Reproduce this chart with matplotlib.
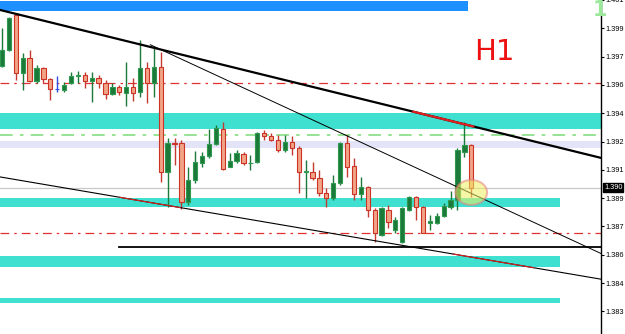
import matplotlib.pyplot as plt
from matplotlib.patches import Ellipse

# H1 candles, oldest first
opens = [1.39687, 1.39777, 1.39975, 1.39647, 1.39732, 1.39602, 1.39676, 1.39613, 1.39557, 1.39551,
         1.39591, 1.39630, 1.39636, 1.39602, 1.39619, 1.39591, 1.39529, 1.39568, 1.39534, 1.39568,
         1.39540, 1.39676, 1.39591, 1.39681, 1.39088, 1.39252, 1.39252, 1.38918, 1.39042, 1.39138,
         1.39178, 1.39246, 1.39331, 1.39116, 1.39150, 1.39189, 1.39138, 1.39144, 1.39308, 1.39291,
         1.39268, 1.39212, 1.39257, 1.39223, 1.39088, 1.39088, 1.39054, 1.38969, 1.38941, 1.39025,
         1.39252, 1.39121, 1.38963, 1.39003, 1.38873, 1.38731, 1.38873, 1.38760, 1.38692, 1.38873,
         1.38946, 1.38890, 1.38799, 1.38799, 1.38839, 1.38890, 1.38929, 1.39201, 1.39240]
highs = [1.39902, 1.39964, 1.39981, 1.39760, 1.39777, 1.39692, 1.39681, 1.39619, 1.39630, 1.39596,
         1.39653, 1.39659, 1.39653, 1.39653, 1.39636, 1.39608, 1.39591, 1.39579, 1.39709, 1.39619,
         1.39834, 1.39709, 1.39789, 1.39766, 1.39280, 1.39280, 1.39268, 1.39116, 1.39206, 1.39201,
         1.39331, 1.39353, 1.39370, 1.39195, 1.39212, 1.39201, 1.39184, 1.39314, 1.39325, 1.39308,
         1.39297, 1.39297, 1.39291, 1.39235, 1.39155, 1.39144, 1.39099, 1.38997, 1.39071, 1.39257,
         1.39297, 1.39167, 1.39059, 1.39008, 1.38884, 1.38890, 1.38901, 1.38833, 1.38890, 1.38952,
         1.38952, 1.38895, 1.38844, 1.38856, 1.38912, 1.38980, 1.39223, 1.39370, 1.39246]
lows = [1.39681, 1.39772, 1.39608, 1.39551, 1.39596, 1.39591, 1.39591, 1.39495, 1.39540, 1.39540,
        1.39585, 1.39591, 1.39562, 1.39483, 1.39562, 1.39500, 1.39523, 1.39523, 1.39461, 1.39489,
        1.39512, 1.39478, 1.39512, 1.39031, 1.38890, 1.39127, 1.38878, 1.38901, 1.39025, 1.39116,
        1.39167, 1.39240, 1.39099, 1.39116, 1.39138, 1.39127, 1.39099, 1.39138, 1.39268, 1.39263,
        1.39201, 1.39201, 1.39184, 1.38969, 1.38941, 1.39042, 1.38952, 1.38890, 1.38929, 1.39014,
        1.39059, 1.38929, 1.38929, 1.38833, 1.38692, 1.38726, 1.38771, 1.38743, 1.38686, 1.38867,
        1.38816, 1.38743, 1.38760, 1.38794, 1.38833, 1.38878, 1.38873, 1.39172, 1.38946]
closes = [1.39777, 1.39958, 1.39647, 1.39732, 1.39602, 1.39676, 1.39613, 1.39557, 1.39557, 1.39579,
          1.39630, 1.39636, 1.39602, 1.39619, 1.39591, 1.39529, 1.39568, 1.39540, 1.39568, 1.39534,
          1.39676, 1.39591, 1.39681, 1.39088, 1.39252, 1.39246, 1.38918, 1.39042, 1.39144, 1.39178,
          1.39246, 1.39336, 1.39104, 1.39150, 1.39195, 1.39138, 1.39141, 1.39308, 1.39291, 1.39268,
          1.39212, 1.39257, 1.39223, 1.39088, 1.39091, 1.39054, 1.38969, 1.38941, 1.39025, 1.39252,
          1.39116, 1.38963, 1.39003, 1.38873, 1.38743, 1.38884, 1.38805, 1.38816, 1.38884, 1.38946,
          1.38890, 1.38743, 1.38810, 1.38839, 1.38895, 1.38929, 1.39212, 1.39240, 1.39000]

current_price = 1.39000

# zones: (low, high, last bar index or None = to the edge)
blue_zone = (1.39998, 1.40054, 67.5)
turq_zones = [(1.39331, 1.39421, None), (1.38890, 1.38941, 80.9),
              (1.38550, 1.38613, 80.9), (1.38347, 1.38375, 80.9)]
lavender_zone = (1.39223, 1.39263)

red_levels = [1.39591, 1.38743]
green_level = 1.39297
support_level = (1.38663, 17.0)

# trend lines as two anchor points (bar, price)
upper_line = [(0, 1.40001), (68, 1.39348)]
mid_line = [(22, 1.39798), (80, 1.38750)]
lower_line = [(0, 1.39058), (80, 1.38527)]
upper_red = [(59.6, 68.3)]
lower_red = [(17.1, 25.8), (65.4, 77.0)]

tick_values = [1.4006, 1.3990, 1.3974, 1.3958, 1.3942, 1.3926, 1.3910,
               1.3894, 1.3878, 1.3862, 1.3846, 1.3830]
tick_labels = ["1.401", "1.399", "1.397", "1.396", "1.394", "1.392", "1.391",
               "1.389", "1.387", "1.386", "1.384", "1.383"]

fig = plt.figure(figsize=(6.25, 3.34), dpi=100)
ax = fig.add_axes([0, 0, 601 / 625, 1])
x_left, x_right = -0.29, 86.8
ax.set_xlim(x_left, x_right)
ax.set_ylim(1.38172, 1.40060)


def line_at(pts, x):
    (x0, y0), (x1, y1) = pts
    return y0 + (y1 - y0) * (x - x0) / (x1 - x0)


# zones
ax.fill_between([x_left, blue_zone[2]], blue_zone[0], blue_zone[1], color="#1e90ff", lw=0, zorder=1)
for lo, hi, end in turq_zones:
    ax.fill_between([x_left, end if end else x_right], lo, hi, color="#40e0d0", lw=0, zorder=1)
ax.fill_between([x_left, x_right], lavender_zone[0], lavender_zone[1], color="#e4e4f8", lw=0, zorder=1)

# levels
for lvl in red_levels:
    ax.axhline(lvl, color="#e03030", lw=0.9, ls=(0, (7, 4, 2, 4)), zorder=2)
ax.axhline(green_level, color="#8ee08e", lw=1.3, ls=(0, (7, 4, 2, 4)), zorder=2)
ax.axhline(current_price, color="#c8c8c8", lw=0.9, zorder=2)
ax.plot([support_level[1], x_right], [support_level[0]] * 2, color="black", lw=1.3, zorder=2)

# trend lines
ax.plot([x_left, x_right], [line_at(upper_line, x_left), line_at(upper_line, x_right)],
        color="black", lw=1.6, zorder=5)
ax.plot([21.5, x_right], [line_at(mid_line, 21.5), line_at(mid_line, x_right)],
        color="black", lw=0.7, zorder=5)
ax.plot([x_left, x_right], [line_at(lower_line, x_left), line_at(lower_line, x_right)],
        color="black", lw=0.8, zorder=5)
for a, b in upper_red:
    ax.plot([a, b], [line_at(upper_line, a), line_at(upper_line, b)], color="#e02020", lw=1.6, zorder=6)
for a, b in lower_red:
    ax.plot([a, b], [line_at(lower_line, a), line_at(lower_line, b)], color="#e02020", lw=0.8, zorder=6)

# candles
for i, (o, h, l, c) in enumerate(zip(opens, highs, lows, closes)):
    if c > o:
        body, edge, wick = "#1b7a3a", "#2f9a4f", "#1b7a3a"
    elif c < o:
        body, edge, wick = "#f2a487", "#cc3325", "#c43a30"
    else:
        body, edge, wick = "#3050e0", "#3050e0", "#3050e0"
    ax.vlines(i, l, h, color=wick, lw=1.0, zorder=3)
    ax.bar(i, max(abs(c - o), 0.000005), bottom=min(o, c), width=0.62,
           color=body, edgecolor=edge, lw=0.8, zorder=4)

# highlight around last close
ax.add_patch(Ellipse((68, 1.38972), 4.6, 0.00141, facecolor="#f0f060", alpha=0.55,
                     edgecolor="#e88080", lw=1.5, zorder=7))

ax.text(71.4, 1.39766, "H1", color="#ee1111", fontsize=21, ha="center", va="center", zorder=8)
ax.text(86.6, 1.40060, "1", color="#9be89b", fontsize=15, fontweight="bold",
        ha="center", va="top", zorder=8)

# right price scale
for s in ["left", "top", "bottom"]:
    ax.spines[s].set_visible(False)
ax.spines["right"].set_linewidth(1.0)
ax.set_xticks([])
ax.yaxis.tick_right()
ax.set_yticks(tick_values)
ax.set_yticklabels(tick_labels, fontsize=5.3, family="Liberation Sans")
ax.tick_params(axis="y", direction="out", length=2, width=0.8, pad=1)
ax.annotate("1.390", xy=(1.0, current_price), xycoords=("axes fraction", "data"),
            xytext=(2.2, 0), textcoords="offset points", fontsize=5.3, family="Liberation Sans",
            color="white", va="center", ha="left", annotation_clip=False,
            bbox=dict(boxstyle="square,pad=0.12", fc="black", ec="black"), zorder=10)

fig.savefig("out.png", dpi=100)
